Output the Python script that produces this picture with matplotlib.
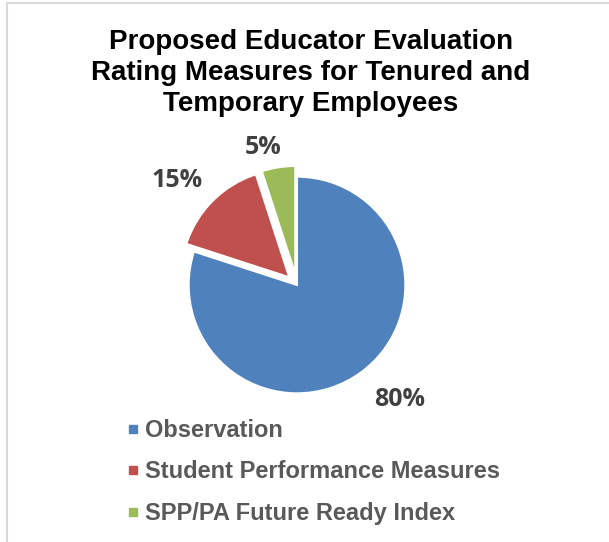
import numpy as np
import matplotlib.pyplot as plt
from matplotlib.lines import Line2D

# chart data
categories = ["Observation", "Student Performance Measures", "SPP/PA Future Ready Index"]
shares = [80, 15, 5]
colors = ["#4F81BD", "#C0504D", "#9BBB59"]
explode = [0, 0.1, 0.1]

W, H = 609, 542
fig = plt.figure(figsize=(W / 100, H / 100), dpi=100)

# pie axes: centre near (297, 285) px, radius ~108 px
ax = fig.add_axes([167 / W, 127 / H, 260 / W, 260 / H])
wedges, texts, autotexts = ax.pie(
    shares, colors=colors, explode=explode, startangle=90, counterclock=False,
    autopct="%d%%", pctdistance=1.4,
    wedgeprops=dict(edgecolor="white", linewidth=1.5),
    textprops=dict(family="Open Sans", weight="bold", size=18, color="#404040"),
)
ax.set_xlim(-1.2, 1.2)
ax.set_ylim(-1.2, 1.2)
ax.set_aspect("equal")

# data labels sit outside the pie, roughly like Excel's best-fit placement
label_r = [1.42, 1.47, 1.31]
label_shift = [6, 4, 5]   # degrees, counter-clockwise from wedge middle
for w, t, r, s in zip(wedges, autotexts, label_r, label_shift):
    a = np.deg2rad((w.theta1 + w.theta2) / 2 + s)
    t.set_position((r * np.cos(a), r * np.sin(a)))

fig.text(311 / W, 1 - 73 / H,
         "Proposed Educator Evaluation\nRating Measures for Tenured and\nTemporary Employees",
         ha="center", va="center", family="Liberation Sans", weight="bold",
         size=20, linespacing=1.26, color="black")

handles = [Line2D([], [], marker="s", linestyle="none", markersize=6,
                  markerfacecolor=c, markeredgecolor=c) for c in colors]
leg = fig.legend(handles, categories, loc="upper left",
                 bbox_to_anchor=(126 / W, 1 - 419 / H), frameon=False,
                 handlelength=0.6, handletextpad=0.2, borderpad=0,
                 borderaxespad=0, labelspacing=0.78,
                 prop=dict(family="Liberation Sans", weight="bold", size=17))
for t in leg.get_texts():
    t.set_color("#595959")

# light chart border (top and left edges visible)
fig.add_artist(Line2D([7 / W, 7 / W], [0, 1 - 3 / H], color="#D9D9D9", lw=1.5))
fig.add_artist(Line2D([7 / W, 1], [1 - 3 / H, 1 - 3 / H], color="#D9D9D9", lw=1.5))

fig.savefig("out.png", dpi=100)
